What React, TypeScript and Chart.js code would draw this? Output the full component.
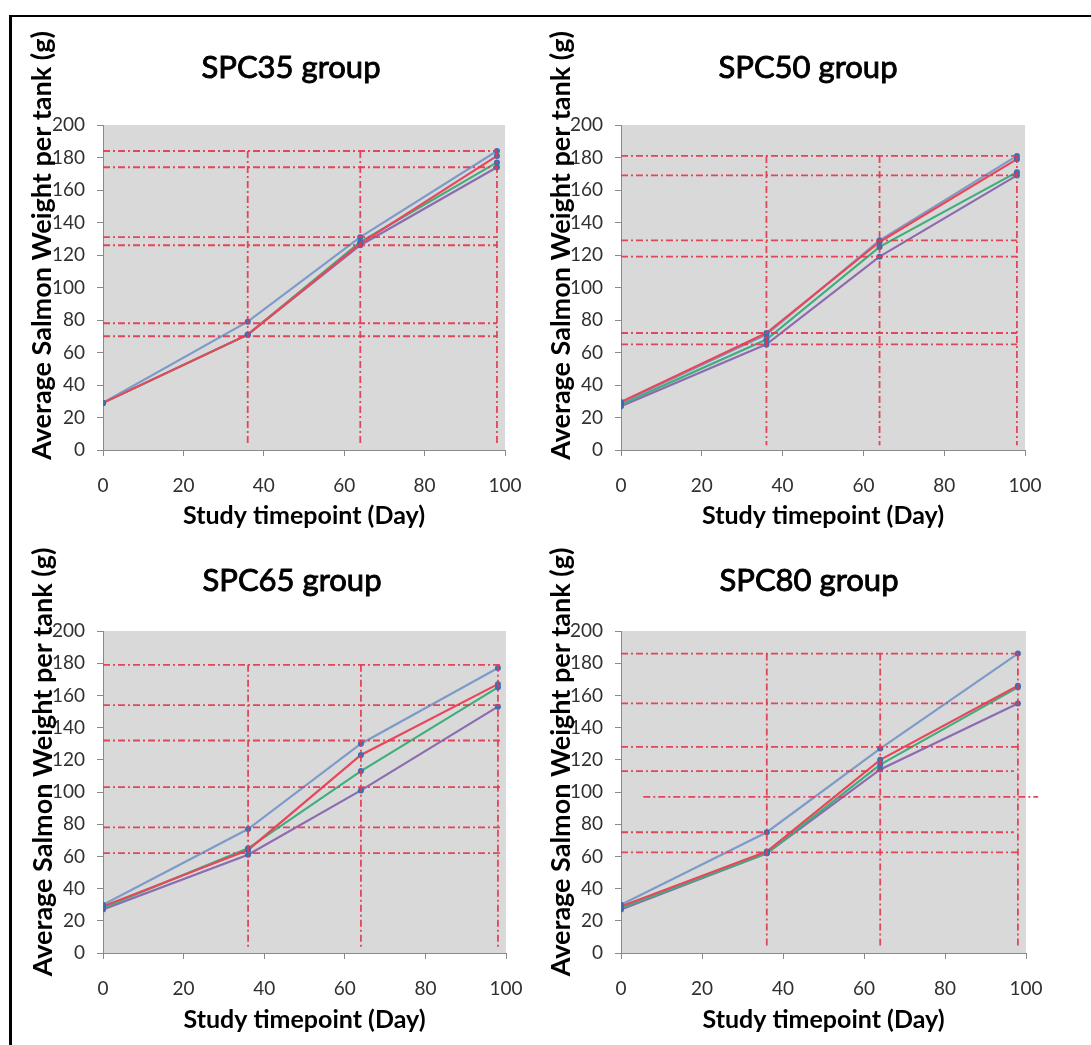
import React, { useEffect, useRef } from 'react';
import { Chart, registerables } from 'chart.js';

Chart.register(...registerables);

// ---------- data ----------
const timepoints = [0, 36, 64, 98];
const xTickValues = [0, 20, 40, 60, 80, 100];
const yTickValues = [0, 20, 40, 60, 80, 100, 120, 140, 160, 180, 200];
const refDays = [36, 64, 98];
const refFloor = 3;

// SPC35 group
const spc35Blue = [29, 79, 131, 184];
const spc35Red = [29, 71, 127, 181];
const spc35Green = [29, 71, 128, 177];
const spc35Purple = [29, 71, 126, 174];
const spc35Refs = [184, 174, 131, 126, 78, 70];
const spc35RefFrom = [0, 0, 0, 0, 0, 0];
const spc35RefTo = [98, 98, 98, 98, 98, 98];

// SPC50 group
const spc50Blue = [29, 71, 129, 181];
const spc50Red = [29.5, 72, 128, 179];
const spc50Green = [28, 68, 125, 171];
const spc50Purple = [27, 65, 119, 169];
const spc50Refs = [181, 169, 129, 119, 72, 65];
const spc50RefFrom = [0, 0, 0, 0, 0, 0];
const spc50RefTo = [98, 98, 98, 98, 98, 98];

// SPC65 group
const spc65Blue = [30, 77, 130, 177];
const spc65Red = [29, 64, 123, 167];
const spc65Green = [28, 65, 113, 165];
const spc65Purple = [27, 61, 101, 153];
const spc65Refs = [179, 154, 132, 103, 78, 62];
const spc65RefFrom = [0, 0, 0, 0, 0, 0];
const spc65RefTo = [98.5, 98.5, 98.5, 98.5, 98.5, 98.5];

// SPC80 group
const spc80Blue = [30, 75, 127, 186];
const spc80Red = [29, 63, 120, 166];
const spc80Green = [28, 62, 117, 165];
const spc80Purple = [27, 62, 114, 155];
const spc80Refs = [186, 155, 128, 113, 97, 75, 62.5];
const spc80RefFrom = [0, 0, 0, 0, 5.5, 0, 0];
const spc80RefTo = [98, 98, 98, 97, 103, 97, 98];

const panelTitles = ['SPC35 group', 'SPC50 group', 'SPC65 group', 'SPC80 group'];
const xAxisTitle = 'Study timepoint (Day)';
const yAxisTitle = 'Average Salmon Weight per tank (g)';

// ---------- styling / layout ----------
const FONT = 'Lato, "Open Sans", sans-serif';
const COLORS = {
  blue: '#7d9bc8',
  red: '#e8475a',
  green: '#3fae7c',
  purple: '#8c6bb1',
  marker: '#3d6db4',
  ref: 'rgba(228, 58, 78, 0.92)',
  plotBg: '#d9d9d9',
  axis: '#8a8a8a',
  tick: '#303030',
  text: '#000000',
};

const LAYOUT = [
  { left: 12, top: 17, width: 533, height: 523, yAxisWidth: 91, padRight: 40, padTop: 108, xAxisHeight: 81, padBottom: 9, titleX: 291, titleY: 67.5, yTitleX: 42.5, yTitleY: 245.5 },
  { left: 545, top: 17, width: 546, height: 523, yAxisWidth: 76, padRight: 66, padTop: 108, xAxisHeight: 81, padBottom: 9, titleX: 808, titleY: 67.5, yTitleX: 561, yTitleY: 245.5 },
  { left: 12, top: 540, width: 533, height: 505, yAxisWidth: 91, padRight: 39, padTop: 91, xAxisHeight: 82, padBottom: 10, titleX: 292, titleY: 581, yTitleX: 43, yTitleY: 762 },
  { left: 545, top: 540, width: 546, height: 505, yAxisWidth: 76, padRight: 65, padTop: 91, xAxisHeight: 82, padBottom: 10, titleX: 809, titleY: 581, yTitleX: 561, yTitleY: 762 },
];

type Panel = {
  title: string;
  blue: number[];
  red: number[];
  green: number[];
  purple: number[];
  refs: number[];
  refFrom: number[];
  refTo: number[];
};

const PANELS: Panel[] = [
  { title: panelTitles[0], blue: spc35Blue, red: spc35Red, green: spc35Green, purple: spc35Purple, refs: spc35Refs, refFrom: spc35RefFrom, refTo: spc35RefTo },
  { title: panelTitles[1], blue: spc50Blue, red: spc50Red, green: spc50Green, purple: spc50Purple, refs: spc50Refs, refFrom: spc50RefFrom, refTo: spc50RefTo },
  { title: panelTitles[2], blue: spc65Blue, red: spc65Red, green: spc65Green, purple: spc65Purple, refs: spc65Refs, refFrom: spc65RefFrom, refTo: spc65RefTo },
  { title: panelTitles[3], blue: spc80Blue, red: spc80Red, green: spc80Green, purple: spc80Purple, refs: spc80Refs, refFrom: spc80RefFrom, refTo: spc80RefTo },
];

// ---------- plugins ----------
const plotBgPlugin = {
  id: 'plotBg',
  beforeDraw(chart: any) {
    const { ctx, chartArea } = chart;
    if (!chartArea) return;
    ctx.save();
    ctx.fillStyle = COLORS.plotBg;
    ctx.fillRect(chartArea.left, chartArea.top, chartArea.right - chartArea.left, chartArea.bottom - chartArea.top);
    ctx.restore();
  },
};

const panelTextPlugin = {
  id: 'panelText',
  afterDraw(chart: any, _args: any, opts: any) {
    const ctx = chart.ctx;
    ctx.save();
    ctx.fillStyle = COLORS.text;
    ctx.strokeStyle = COLORS.text;
    ctx.textAlign = 'center';
    ctx.textBaseline = 'middle';
    ctx.font = `normal 31px ${FONT}`;
    ctx.fillText(opts.title, opts.titleX, opts.titleY);
    ctx.lineWidth = 0.9;
    ctx.strokeText(opts.title, opts.titleX, opts.titleY);
    ctx.translate(opts.yTitleX, opts.yTitleY);
    ctx.rotate(-Math.PI / 2);
    ctx.font = `bold 27px ${FONT}`;
    ctx.fillText(opts.yTitle, 0, 0);
    ctx.restore();
  },
};

function seriesDataset(label: string, values: number[], color: string, order: number) {
  return {
    label,
    data: timepoints.map((d, i) => ({ x: d, y: values[i] })),
    borderColor: color,
    backgroundColor: COLORS.marker,
    borderWidth: 2.2,
    pointRadius: 3,
    pointBackgroundColor: COLORS.marker,
    pointBorderWidth: 0,
    tension: 0,
    order,
  };
}

function refDataset(points: { x: number; y: number }[]) {
  return {
    label: 'ref',
    data: points,
    borderColor: COLORS.ref,
    borderWidth: 1.8,
    borderDash: [7, 3, 2, 3],
    pointRadius: 0,
    tension: 0,
    clip: false,
    order: 0,
  };
}

function buildConfig(p: Panel, lay: (typeof LAYOUT)[number]) {
  const top = Math.max(...p.refs);
  const datasets: any[] = [
    ...p.refs.map((v, i) => refDataset([{ x: p.refFrom[i], y: v }, { x: p.refTo[i], y: v }])),
    ...refDays.map((d) => refDataset([{ x: d, y: top }, { x: d, y: refFloor }])),
    seriesDataset('Red', p.red, COLORS.red, 1),
    seriesDataset('Blue', p.blue, COLORS.blue, 2),
    seriesDataset('Green', p.green, COLORS.green, 3),
    seriesDataset('Purple', p.purple, COLORS.purple, 4),
  ];
  const tickFont = { family: FONT, size: 19 };
  const grid = { drawOnChartArea: false, drawTicks: true, tickLength: 6, color: COLORS.axis, lineWidth: 1 };
  const border = { display: true, color: COLORS.axis, width: 1 };
  return {
    type: 'line' as const,
    data: { datasets },
    options: {
      animation: false,
      responsive: false,
      maintainAspectRatio: false,
      devicePixelRatio: 1,
      layout: { padding: { left: 0, right: lay.padRight, top: lay.padTop, bottom: lay.padBottom } },
      plugins: {
        legend: { display: false },
        tooltip: { enabled: false },
        title: { display: false, text: p.title },
        panelText: {
          title: p.title,
          yTitle: yAxisTitle,
          titleX: lay.titleX - lay.left,
          titleY: lay.titleY - lay.top,
          yTitleX: lay.yTitleX - lay.left,
          yTitleY: lay.yTitleY - lay.top,
        },
      },
      scales: {
        x: {
          type: 'linear',
          min: 0,
          max: 100,
          afterBuildTicks: (s: any) => {
            s.ticks = xTickValues.map((v) => ({ value: v }));
          },
          ticks: { font: tickFont, color: COLORS.tick, padding: 18, maxRotation: 0 },
          grid,
          border,
          title: { display: true, text: xAxisTitle, color: COLORS.text, font: { family: FONT, size: 25, weight: 'bold' }, padding: 0 },
          afterFit: (s: any) => {
            s.height = lay.xAxisHeight;
          },
        },
        y: {
          type: 'linear',
          min: 0,
          max: 200,
          afterBuildTicks: (s: any) => {
            s.ticks = yTickValues.map((v) => ({ value: v }));
          },
          ticks: { font: tickFont, color: COLORS.tick, padding: 12 },
          grid,
          border,
          title: { display: false, text: yAxisTitle },
          afterFit: (s: any) => {
            s.width = lay.yAxisWidth;
          },
        },
      },
    },
    plugins: [plotBgPlugin, panelTextPlugin],
  };
}

function PanelChart({ index }: { index: number }) {
  const ref = useRef<HTMLCanvasElement | null>(null);
  const lay = LAYOUT[index];
  useEffect(() => {
    if (!ref.current) return;
    const chart = new Chart(ref.current, buildConfig(PANELS[index], lay) as any);
    return () => chart.destroy();
  }, [index]);
  return (
    <canvas
      ref={ref}
      width={lay.width}
      height={lay.height}
      style={{ position: 'absolute', left: lay.left, top: lay.top, width: lay.width, height: lay.height }}
    />
  );
}

export default function App() {
  return (
    <div
      style={{
        position: 'absolute',
        left: 0,
        top: 0,
        width: 1091,
        height: 1045,
        background: '#ffffff',
        overflow: 'hidden',
        fontFamily: FONT,
      }}
    >
      <div
        style={{
          position: 'absolute',
          left: 9,
          top: 15,
          width: 1091,
          height: 1045,
          borderTop: '2px solid #000',
          borderLeft: '3px solid #000',
          boxSizing: 'border-box',
        }}
      />
      {PANELS.map((_, i) => (
        <PanelChart key={i} index={i} />
      ))}
    </div>
  );
}
